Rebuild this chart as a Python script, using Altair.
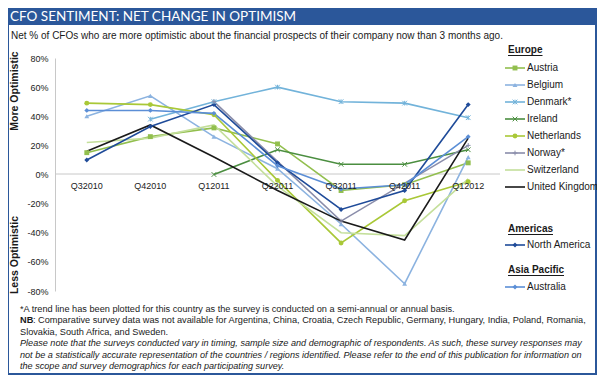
import altair as alt
import pandas as pd

# ---------------- data ----------------
quarters = ["Q32010", "Q42010", "Q12011", "Q22011", "Q32011", "Q42011", "Q12012"]

austria = [15, 26, 32, 21, -11, -7, 8]
belgium = [40, 54, 26, 4, -34, -75, 12]
denmark = [None, 38, 50, 60, 50, 49, 39]
ireland = [None, None, 0, 17, 7, 7, 17]
netherlands = [49, 48, 41, -4, -47, -18, -5]
norway = [None, None, 50, None, -32, None, 20]
switzerland = [22, 25, 34, -8, -40, -42, -3]
united_kingdom = [16, 34, 12, -11, -32, -45, 25]
north_america = [10, 33, 48, 8, -24, -11, 48]
australia = [44, 44, 42, 6, -10, -7, 26]

series_names = ["Austria", "Belgium", "Denmark*", "Ireland", "Netherlands", "Norway*",
                "Switzerland", "United Kingdom", "North America", "Australia"]
series_values = [austria, belgium, denmark, ireland, netherlands, norway,
                 switzerland, united_kingdom, north_america, australia]
series_colors = ["#92BF4E", "#8CB3E0", "#72B3DA", "#4B8E40", "#A9C837", "#8A8DAA",
                 "#C4DF9B", "#1A1A1A", "#1F4B99", "#5B8ED6"]

y_ticks = [-80, -60, -40, -20, 0, 20, 40, 60, 80]

title_text = "CFO SENTIMENT: NET CHANGE IN OPTIMISM"
subtitle_text = ("Net % of CFOs who are more optimistic about the financial prospects "
                 "of their company now than 3 months ago.")
foot1 = ("*A trend line has been plotted for this country as the survey is conducted "
         "on a semi-annual or annual  basis.")
foot2b = "NB"
foot2 = (": Comparative survey data was not available for Argentina, China, Croatia, "
         "Czech Republic,  Germany, Hungary,  India, Poland, Romania,")
foot3 = "Slovakia, South Africa, and Sweden."
foot4 = ("Please note that the surveys conducted vary in timing, sample size and demographic "
         "of respondents.  As such, these survey responses may")
foot5 = ("not be a statistically accurate representation of the countries / regions identified. "
         "Please refer to the end of this publication for information on")
foot6 = "the scope and survey demographics for each participating survey."

rows = []
for name, vals in zip(series_names, series_values):
    for q, v in zip(quarters, vals):
        if v is not None:
            rows.append({"series": name, "quarter": q, "value": v})
df = pd.DataFrame(rows)

# ---------------- layout helpers (reference pixel -> view pixel) ----------------
OX, OY = 55, 58
PW, PH = 445, 233


def vx(p):
    return p - OX


def vy(p):
    return p - OY


FONT = "Liberation Sans"
color_scale = alt.Scale(domain=series_names, range=series_colors)
x_enc = alt.X("quarter:O", sort=quarters,
              scale=alt.Scale(type="point", domain=quarters, padding=0.5), axis=None)
y_axis = alt.Axis(values=y_ticks, tickCount=9, labelExpr="datum.value + '%'", ticks=False,
                  grid=False, domainColor="#C8C8C8", labelFont=FONT, labelFontSize=9,
                  labelColor="#222", labelPadding=7, title=None, zindex=1,
                  labelOverlap=False, labelBound=False, labelFlush=False)
y_enc = alt.Y("value:Q", scale=alt.Scale(domain=[-80, 80], nice=False, zero=False), axis=y_axis)

filled_series = ["Austria", "Belgium", "Netherlands", "North America", "Australia"]
filled_shapes = ["square", "triangle-up", "circle", "diamond", "diamond"]
stroke_series = ["Denmark*", "Ireland", "Norway*"]
stroke_shapes = ["M-1,-1L1,1M-1,1L1,-1M0,-1L0,1", "M-1,-1L1,1M-1,1L1,-1", "M-1,0L1,0M0,-1L0,1"]


def one(text):
    return pd.DataFrame({"t": [text]})


def txt(text, x, y, size=9, weight="normal", style="normal", align="left",
        color="#1a1a1a", font=FONT, angle=0):
    kw = dict(align=align, baseline="middle", fontSize=size, fontWeight=weight,
              fontStyle=style, color=color, font=font)
    if angle:
        kw["angle"] = angle
    return alt.Chart(one(text)).mark_text(**kw).encode(
        text="t:N", x=alt.value(x), y=alt.value(y))


# ---------------- frame ----------------
frame = alt.Chart(one("f")).mark_rect(fill="white", stroke="#2B579A", strokeWidth=2).encode(
    x=alt.value(-47), x2=alt.value(541), y=alt.value(-50), y2=alt.value(316))
title_bar = alt.Chart(one("b")).mark_rect(fill="#2B579A").encode(
    x=alt.value(-47), x2=alt.value(542), y=alt.value(-50), y2=alt.value(vy(25)))
title = txt(title_text, vx(10), vy(17), size=13.5, color="white", font="Lato")
subtitle = txt(subtitle_text, vx(11), vy(36), size=10)
more_opt = txt("More Optimistic", vx(14.5), vy(91), size=10.5, weight="bold", align="center", angle=270)
less_opt = txt("Less Optimistic", vx(14.5), vy(255), size=10.5, weight="bold", align="center", angle=270)

# ---------------- plot ----------------
lines = alt.Chart(df).mark_line(strokeWidth=1.6).encode(
    x=x_enc, y=y_enc,
    color=alt.Color("series:N", scale=color_scale, legend=None),
)

zero_rule = alt.Chart(one("z")).mark_rule(color="#C8C8C8", strokeWidth=1).encode(
    y=alt.value(vy(174)), x=alt.value(0), x2=alt.value(PW))

xlabels = alt.Chart(pd.DataFrame({"quarter": quarters})).mark_text(
    baseline="middle", fontSize=9, font=FONT, color="#222").encode(
    x=x_enc, y=alt.value(vy(185.5)), text="quarter:N")

pts_filled = alt.Chart(df).transform_filter(
    alt.FieldOneOfPredicate(field="series", oneOf=filled_series)
).mark_point(filled=True, size=24, opacity=1).encode(
    x=x_enc, y=y_enc,
    color=alt.Color("series:N", scale=color_scale, legend=None),
    shape=alt.Shape("series:N", scale=alt.Scale(domain=filled_series, range=filled_shapes), legend=None),
)
pts_stroke = alt.Chart(df).transform_filter(
    alt.FieldOneOfPredicate(field="series", oneOf=stroke_series)
).mark_point(filled=False, size=22, strokeWidth=1, opacity=1).encode(
    x=x_enc, y=y_enc,
    color=alt.Color("series:N", scale=color_scale, legend=None),
    shape=alt.Shape("series:N", scale=alt.Scale(domain=stroke_series, range=stroke_shapes), legend=None),
)

# ---------------- legend (manual) ----------------
legend_y_ref = [68, 85, 102, 119, 136, 153, 170, 187, 245, 287]
leg = pd.DataFrame({"series": series_names, "ly": [vy(v) for v in legend_y_ref]})
ly = alt.Y("ly:Q", scale=None)

leg_lines = alt.Chart(leg).mark_rule(strokeWidth=1.6).encode(
    x=alt.value(vx(505)), x2=alt.value(vx(525)), y=ly,
    color=alt.Color("series:N", scale=color_scale, legend=None))
leg_pf = alt.Chart(leg).transform_filter(
    alt.FieldOneOfPredicate(field="series", oneOf=filled_series)
).mark_point(filled=True, size=24, opacity=1).encode(
    x=alt.value(vx(515)), y=ly,
    color=alt.Color("series:N", scale=color_scale, legend=None),
    shape=alt.Shape("series:N", scale=alt.Scale(domain=filled_series, range=filled_shapes), legend=None))
leg_ps = alt.Chart(leg).transform_filter(
    alt.FieldOneOfPredicate(field="series", oneOf=stroke_series)
).mark_point(filled=False, size=22, strokeWidth=1, opacity=1).encode(
    x=alt.value(vx(515)), y=ly,
    color=alt.Color("series:N", scale=color_scale, legend=None),
    shape=alt.Shape("series:N", scale=alt.Scale(domain=stroke_series, range=stroke_shapes), legend=None))
leg_text = alt.Chart(leg).mark_text(align="left", baseline="middle", fontSize=10,
                                    font=FONT, color="#1a1a1a").encode(
    x=alt.value(vx(527)), y=ly, text="series:N")

headers = []
for label, yref, w in [("Europe", 50, 34.5), ("Americas", 229, 45), ("Asia Pacific", 270, 56)]:
    headers.append(txt(label, vx(508), vy(yref), size=10, weight="bold"))
    headers.append(alt.Chart(one(label)).mark_rule(color="#1a1a1a", strokeWidth=1).encode(
        x=alt.value(vx(508)), x2=alt.value(vx(508) + w), y=alt.value(vy(yref + 5.5))))

# ---------------- footnotes ----------------
FS = 9.2
FI = 9.1
feet = [
    txt(foot1, vx(20), vy(308.5), size=FS),
    txt(foot2b, vx(20), vy(320), size=FS, weight="bold"),
    txt(foot2, vx(20) + 13, vy(320), size=FS),
    txt(foot3, vx(20), vy(331.5), size=FS),
    txt(foot4, vx(20), vy(343), size=FI, style="italic"),
    txt(foot5, vx(20), vy(354.5), size=FI, style="italic"),
    txt(foot6, vx(20), vy(366), size=FI, style="italic"),
]

chart = alt.layer(
    frame, title_bar, title, subtitle, more_opt, less_opt,
    zero_rule, lines, pts_filled, pts_stroke, xlabels,
    leg_lines, leg_pf, leg_ps, leg_text, *headers, *feet,
).resolve_scale(shape="independent").properties(
    width=PW, height=PH,
    padding={"left": 47, "top": 50, "right": 97, "bottom": 84},
    autosize=alt.AutoSizeParams(type="none"),
    background="white",
).configure_view(stroke=None)

chart.save("out.html", embed_options={"renderer": "svg", "actions": False})
